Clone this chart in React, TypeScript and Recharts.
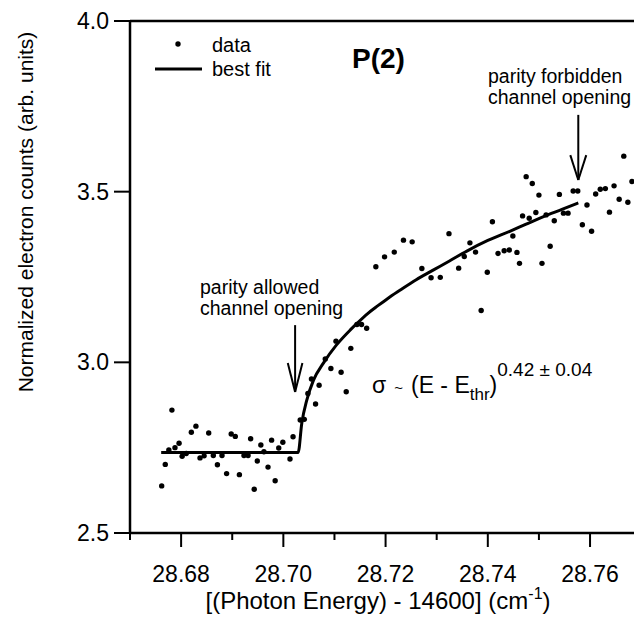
import React from "react"
import { ComposedChart, Scatter, Line, XAxis, YAxis, ReferenceLine } from "recharts"

// measured points, photon energy offset (cm-1) and normalized counts
const energy = [
  28.6762, 28.6769, 28.6776, 28.6782, 28.6788, 28.6796, 28.6802, 28.681, 28.682, 28.6829,
  28.6837, 28.6845, 28.6854, 28.6863, 28.6871, 28.688, 28.6889, 28.6898, 28.6906, 28.6914,
  28.6923, 28.6931, 28.6936, 28.6943, 28.6949, 28.6956, 28.6962, 28.697, 28.6977, 28.6984,
  28.6991, 28.6999, 28.7013, 28.7019, 28.7033, 28.7041, 28.7048, 28.7055, 28.7063, 28.707,
  28.7082, 28.7093, 28.7103, 28.7113, 28.7123, 28.7132, 28.7144, 28.7153, 28.7163, 28.7181,
  28.7198, 28.7217, 28.7235, 28.7252, 28.7271, 28.7289, 28.7307, 28.7324, 28.7343, 28.7354,
  28.7365, 28.7376, 28.7387, 28.7399, 28.7409, 28.742, 28.7432, 28.7442, 28.7449, 28.7457,
  28.7462, 28.7468, 28.7475, 28.7481, 28.7487, 28.7494, 28.75, 28.7506, 28.7514, 28.7522,
  28.753, 28.754, 28.7548, 28.7557, 28.7567, 28.7576, 28.7585, 28.7594, 28.7603, 28.7611,
  28.762, 28.763, 28.7638, 28.7647, 28.7657, 28.7666, 28.7674, 28.7682,
]
const counts = [
  2.638, 2.701, 2.743, 2.86, 2.75, 2.763, 2.725, 2.733, 2.795, 2.813,
  2.72, 2.726, 2.793, 2.727, 2.7, 2.727, 2.674, 2.79, 2.783, 2.671,
  2.727, 2.727, 2.776, 2.628, 2.711, 2.758, 2.738, 2.693, 2.772, 2.653,
  2.749, 2.766, 2.717, 2.782, 2.831, 2.833, 2.909, 2.951, 2.878, 2.933,
  3.01, 2.982, 3.062, 2.971, 2.914, 3.041, 3.111, 3.111, 3.1, 3.28,
  3.309, 3.323, 3.358, 3.353, 3.275, 3.248, 3.249, 3.377, 3.276, 3.31,
  3.35, 3.323, 3.152, 3.264, 3.412, 3.319, 3.327, 3.329, 3.37, 3.322,
  3.29, 3.429, 3.544, 3.422, 3.524, 3.439, 3.49, 3.29, 3.432, 3.34,
  3.415, 3.492, 3.437, 3.437, 3.502, 3.502, 3.403, 3.461, 3.384, 3.493,
  3.507, 3.509, 3.44, 3.517, 3.478, 3.604, 3.469, 3.53,
]

// best fit curve
const fitEnergy = [
  28.6761, 28.7029, 28.7036, 28.7046, 28.7059, 28.7078, 28.7104, 28.7131, 28.7144, 28.7165,
  28.7185, 28.7205, 28.7228, 28.726, 28.7293, 28.7325, 28.7359, 28.74, 28.7443, 28.7475,
  28.7509, 28.7545, 28.7577,
]
const fitCounts = [
  2.736, 2.736, 2.821, 2.89, 2.948, 2.997, 3.051, 3.095, 3.114, 3.143,
  3.166, 3.188, 3.211, 3.242, 3.27, 3.297, 3.326, 3.357, 3.384, 3.405,
  3.427, 3.448, 3.467,
]

const xTicks = [28.67, 28.68, 28.69, 28.7, 28.71, 28.72, 28.73, 28.74, 28.75, 28.76]
const xLabels = ["28.68", "28.70", "28.72", "28.74", "28.76"]
const yTicks = [2.5, 3.0, 3.5, 4.0]

// arrows: [energy, tail, tip, wing level, half width]
const allowedArrow = [28.7023, 3.109, 2.913, 2.998, 0.00143]
const forbiddenArrow = [28.7577, 3.725, 3.534, 3.607, 0.00156]

const points = energy.map((x, i) => ({ x, y: counts[i] }))
const fit = fitEnergy.map((x, i) => ({ x, y: fitCounts[i] }))

const FONT = "'Liberation Sans', Arial, Helvetica, sans-serif"

const XTick = (props: any) => {
  const { x, y, payload } = props
  const label = xLabels.find((l) => Math.abs(parseFloat(l) - payload.value) < 1e-6)
  return (
    <g>
      <line x1={x} x2={x} y1={y} y2={y + (label ? 14 : 7)} stroke="#000" strokeWidth={2} />
      {label && (
        <text x={x} y={y + 49} textAnchor="middle" fontSize={23} fill="#000">
          {label}
        </text>
      )}
    </g>
  )
}

const Dot = (props: any) => <circle cx={props.cx} cy={props.cy} r={2.7} fill="#000" />

function Arrow({ a }: { a: number[] }) {
  const [x, tail, tip, wing, half] = a
  return (
    <>
      <ReferenceLine segment={[{ x, y: tail }, { x, y: tip }]} stroke="#000" strokeWidth={2} />
      <ReferenceLine segment={[{ x: x - half, y: wing }, { x, y: tip }]} stroke="#000" strokeWidth={2} />
      <ReferenceLine segment={[{ x: x + half, y: wing }, { x, y: tip }]} stroke="#000" strokeWidth={2} />
    </>
  )
}

export default function App() {
  return (
    <div style={{ position: "absolute", left: 0, top: 0, width: 634, height: 631, fontFamily: FONT, background: "#fff" }}>
      <ComposedChart width={634} height={631} margin={{ top: 21, right: 0, left: 0, bottom: 0 }}>
        <XAxis
          type="number"
          dataKey="x"
          domain={[28.67, 28.7686]}
          allowDataOverflow
          ticks={xTicks}
          interval={0}
          tick={<XTick />}
          tickLine={false}
          tickSize={0}
          tickMargin={0}
          height={98}
          axisLine={{ stroke: "#000", strokeWidth: 2.5 }}
        />
        <YAxis
          type="number"
          dataKey="y"
          domain={[2.5, 4]}
          allowDataOverflow
          ticks={yTicks}
          interval={0}
          tickFormatter={(v: number) => v.toFixed(1)}
          tick={{ fontSize: 23, fill: "#000" }}
          tickSize={16}
          tickMargin={5}
          tickLine={{ stroke: "#000", strokeWidth: 2 }}
          axisLine={{ stroke: "#000", strokeWidth: 2.5 }}
          width={130}
        />
        <ReferenceLine y={4} stroke="#000" strokeWidth={2.5} />
        {Arrow({ a: allowedArrow })}
        {Arrow({ a: forbiddenArrow })}
        <Scatter data={points} dataKey="y" shape={<Dot />} isAnimationActive={false} />
        <Line data={fit} dataKey="y" type="monotone" stroke="#000" strokeWidth={3} dot={false} activeDot={false} isAnimationActive={false} />
      </ComposedChart>
      <svg width={634} height={631} style={{ position: "absolute", left: 0, top: 0, pointerEvents: "none" }} fontFamily={FONT} fill="#000">
        <circle cx={178} cy={44} r={2.7} />
        <line x1={155} x2={202} y1={69} y2={69} stroke="#000" strokeWidth={3} />
        <text x={212} y={52} fontSize={20}>data</text>
        <text x={212} y={76} fontSize={20}>best fit</text>
        <text x={352} y={68} fontSize={28} fontWeight="bold">P(2)</text>
        <text x={488} y={83} fontSize={19.5}>parity forbidden</text>
        <text x={488} y={104} fontSize={19.5}>channel opening</text>
        <text x={200} y={294} fontSize={19.5}>parity allowed</text>
        <text x={200} y={315} fontSize={19.5}>channel opening</text>
        <text x={372} y={393} fontSize={23}>
          σ<tspan fontSize={15} dx={8}>~</tspan>
          <tspan dx={8}>(E - E</tspan>
          <tspan fontSize={17} dy={7}>thr</tspan>
          <tspan dy={-7}>)</tspan>
          <tspan fontSize={19} dy={-17}>0.42 ± 0.04</tspan>
        </text>
        <text x={378} y={609} fontSize={24} textAnchor="middle">
          [(Photon Energy) - 14600] (cm<tspan fontSize={16} dy={-10}>-1</tspan>
          <tspan dy={10}>)</tspan>
        </text>
        <text transform="translate(33,212) rotate(-90)" fontSize={21} textAnchor="middle">
          Normalized electron counts (arb. units)
        </text>
      </svg>
    </div>
  )
}
